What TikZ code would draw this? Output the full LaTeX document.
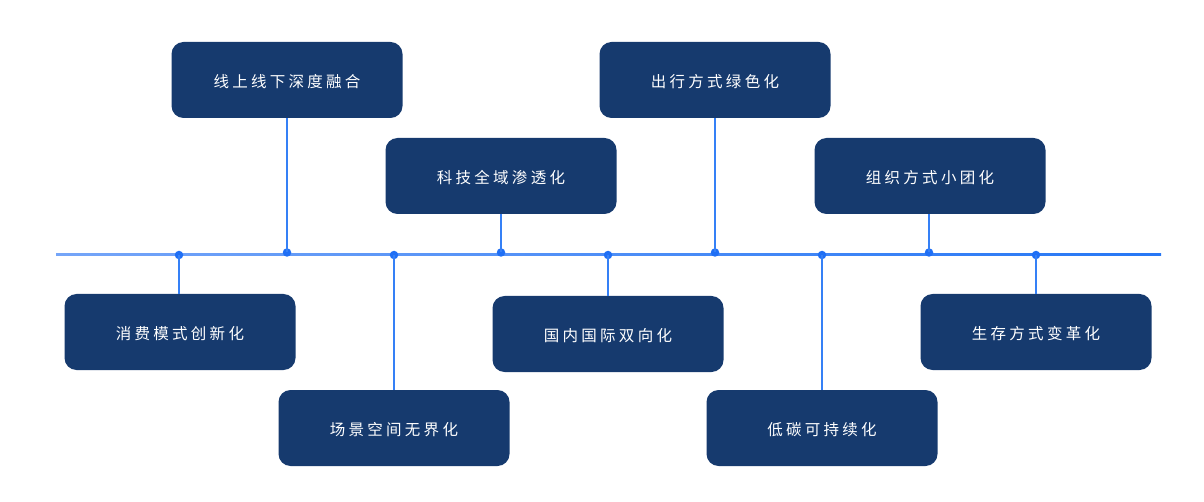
\documentclass[tikz,border=0pt]{standalone}
\usepackage{fontspec}
\newfontfamily\cjk[LetterSpace=21]{Noto Sans CJK SC}
\definecolor{boxblue}{HTML}{163A6E}
\definecolor{connblue}{HTML}{3580F6}
\definecolor{dotblue}{HTML}{1F6FF5}
\definecolor{lineleft}{HTML}{75A5F8}
\definecolor{lineright}{HTML}{2677F5}
\newcommand{\cardtext}[1]{\raisebox{-7.6pt}[0pt][0pt]{#1}}
\begin{document}
\begin{tikzpicture}[x=1pt,y=-1pt,
  card/.style={fill=boxblue, rounded corners=12pt, minimum width=231pt, minimum height=76pt,
    inner sep=0pt, text=white, font=\cjk\fontsize{15.5pt}{18pt}\selectfont},
  dot/.style={circle, fill=dotblue, inner sep=0pt, minimum size=8.5pt},
  conn/.style={draw=connblue, line width=1.6pt}]
\useasboundingbox (0,0) rectangle (1204,502);
\fill[left color=lineleft, right color=lineright] (56,253.5) rectangle (1161,255.5);
% top cards
\node[card] (a) at (287,80) {\cardtext{线上线下深度融合}};
\node[card] (b) at (501,176) {\cardtext{科技全域渗透化}};
\node[card] (c) at (715,80) {\cardtext{出行方式绿色化}};
\node[card] (d) at (930,176) {\cardtext{组织方式小团化}};
% bottom cards
\node[card] (e) at (180,332) {\cardtext{消费模式创新化}};
\node[card] (f) at (394,428) {\cardtext{场景空间无界化}};
\node[card] (g) at (608,334) {\cardtext{国内国际双向化}};
\node[card] (h) at (822,428) {\cardtext{低碳可持续化}};
\node[card] (i) at (1036,332) {\cardtext{生存方式变革化}};
% dots
\node[dot] (da) at (287,252.5) {};
\node[dot] (db) at (501,252.5) {};
\node[dot] (dc) at (715,252.5) {};
\node[dot] (dd) at (929,252.5) {};
\node[dot] (de) at (179,255) {};
\node[dot] (df) at (394,255) {};
\node[dot] (dg) at (608,255) {};
\node[dot] (dh) at (822,255) {};
\node[dot] (di) at (1036,255) {};
% connectors
\draw[conn] (a.south) -- (da.center);
\draw[conn] (b.south) -- (db.center);
\draw[conn] (c.south) -- (dc.center);
\draw[conn] (d.south -| dd) -- (dd.center);
\draw[conn] (e.north -| de) -- (de.center);
\draw[conn] (f.north) -- (df.center);
\draw[conn] (g.north) -- (dg.center);
\draw[conn] (h.north) -- (dh.center);
\draw[conn] (i.north) -- (di.center);
\end{tikzpicture}
\end{document}
